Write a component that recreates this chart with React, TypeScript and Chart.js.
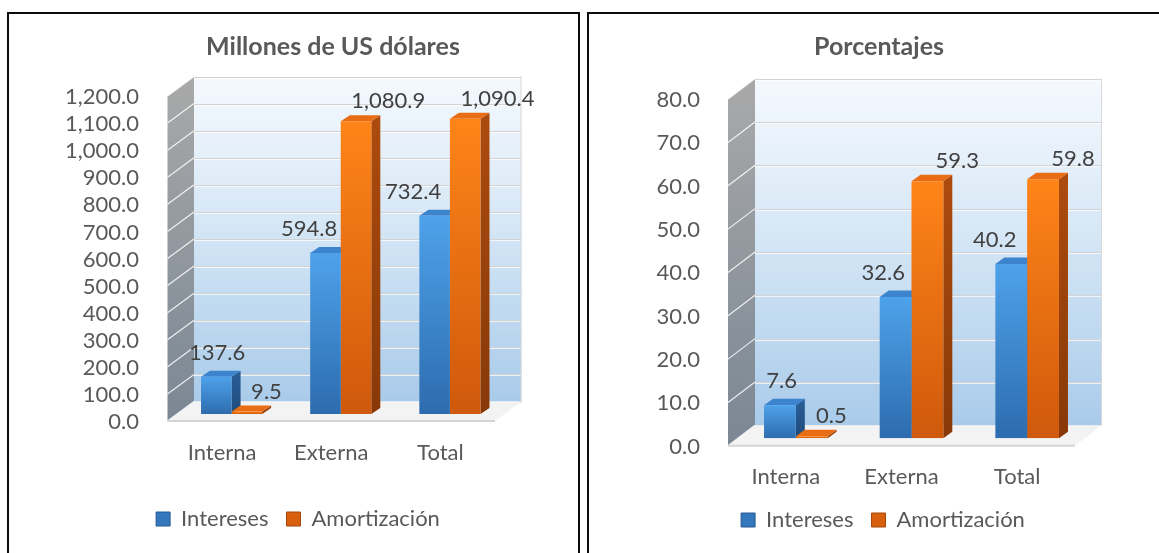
import React, { useEffect, useRef } from "react";
import { Chart, registerables } from "chart.js";

Chart.register(...registerables);

// ---------- data ----------
const categories = ["Interna", "Externa", "Total"];
const seriesLabels = ["Intereses", "Amortización"];
const usdIntereses = [137.6, 594.8, 732.4];
const usdAmortizacion = [9.5, 1080.9, 1090.4];
const pctIntereses = [7.6, 32.6, 40.2];
const pctAmortizacion = [0.5, 59.3, 59.8];
const usdTickValues = [0, 100, 200, 300, 400, 500, 600, 700, 800, 900, 1000, 1100, 1200];
const pctTickValues = [0, 10, 20, 30, 40, 50, 60, 70, 80];
const chartTitles = ["Millones de US dólares", "Porcentajes"];

// ---------- styles ----------
const FONT = "Lato, 'Open Sans', sans-serif";
const FS = 22;
const TEXT = "#595959";
const LABEL = "#404040";
const BLUE = { front: ["#4ea2ea", "#2d6cae"], side: ["#2b5f98", "#1f4b7b"], top: "#3c84cd", legend: "#3577bd", legendStroke: "#255a92" };
const ORANGE = { front: ["#ff8418", "#cf590c"], side: ["#ad4b0e", "#883908"], top: "#e96d14", legend: "#d8600f", legendStroke: "#a4480b" };
const SERIES = [BLUE, ORANGE];

const fmt = (v: number) =>
  v.toLocaleString("en-US", { minimumFractionDigits: 1, maximumFractionDigits: 1 });

interface Layout {
  left: number; top: number; width: number; height: number;
  yWidth: number; rWidth: number; padTop: number; padBottom: number; xHeight: number;
  yPad: number; xPad: number; yLabelOffset: number; xLabelOffset: number;
  titleX: number; titleY: number;
  back: [number, number]; front: [number, number]; depth: [number, number];
  catPct: number;
}

const leftLayout: Layout = {
  left: 10, top: 14, width: 576, height: 539,
  yWidth: 167, rWidth: 81.5, padTop: 75, padBottom: 13, xHeight: 76,
  yPad: 38, xPad: 25.8, yLabelOffset: 8, xLabelOffset: -9.5,
  titleX: 323, titleY: 33,
  back: [17, -12.5], front: [-9.5, 7], depth: [9, 6], catPct: 0.56,
};

const rightLayout: Layout = {
  left: 590, top: 14, width: 586, height: 539,
  yWidth: 148, rWidth: 91, padTop: 77.6, padBottom: 12, xHeight: 52.7,
  yPad: 38, xPad: 25.5, yLabelOffset: 8.4, xLabelOffset: -10,
  titleX: 289, titleY: 33,
  back: [17, -13], front: [-10, 7.5], depth: [9, 6.5], catPct: 0.55,
};

function frontFill(c: any, colors: string[]) {
  const chart = c.chart;
  const ys = chart.scales && chart.scales.y;
  if (!ys || !chart.chartArea || c.raw == null || c.type !== "data") return colors[1];
  const yTop = ys.getPixelForValue(c.raw);
  const yBase = ys.getPixelForValue(0);
  const g = chart.ctx.createLinearGradient(0, yTop, 0, Math.max(yBase, yTop + 1));
  g.addColorStop(0, colors[0]);
  g.addColorStop(1, colors[1]);
  return g;
}

function poly(ctx: CanvasRenderingContext2D, pts: number[][]) {
  ctx.beginPath();
  ctx.moveTo(pts[0][0], pts[0][1]);
  for (let i = 1; i < pts.length; i++) ctx.lineTo(pts[i][0], pts[i][1]);
  ctx.closePath();
  ctx.fill();
}

function line(ctx: CanvasRenderingContext2D, x1: number, y1: number, x2: number, y2: number) {
  ctx.beginPath();
  ctx.moveTo(x1, y1);
  ctx.lineTo(x2, y2);
  ctx.stroke();
}

interface Props { title: string; a: number[]; b: number[]; ticks: number[]; layout: Layout; }

function Bar3D({ title, a, b, ticks, layout: L }: Props) {
  const ref = useRef<HTMLCanvasElement>(null);

  useEffect(() => {
    const canvas = ref.current;
    if (!canvas) return;
    const max = ticks[ticks.length - 1];

    const threeD = {
      id: "threeD",
      beforeDatasetsDraw(chart: any) {
        const ctx: CanvasRenderingContext2D = chart.ctx;
        const ar = chart.chartArea;
        const ys = chart.scales.y;
        const [bdx, bdy] = L.back;
        const [fdx, fdy] = L.front;
        ctx.save();

        // back wall
        const bg = ctx.createLinearGradient(0, ar.top + bdy, 0, ar.bottom + bdy);
        bg.addColorStop(0, "#f5f9fe");
        bg.addColorStop(0.45, "#d6e7f6");
        bg.addColorStop(1, "#a9cbea");
        ctx.fillStyle = bg;
        ctx.fillRect(ar.left + bdx, ar.top + bdy, ar.right - ar.left, ar.bottom - ar.top);
        ctx.lineWidth = 1;
        for (const v of ticks) {
          const y = Math.round(ys.getPixelForValue(v) + bdy) + 0.5;
          ctx.strokeStyle = "#d3d3d3";
          line(ctx, ar.left + bdx, y, ar.right + bdx, y);
          ctx.strokeStyle = "rgba(255,255,255,0.7)";
          line(ctx, ar.left + bdx, y + 1, ar.right + bdx, y + 1);
        }
        ctx.strokeStyle = "#d9d9d9";
        line(ctx, ar.right + bdx - 0.5, ar.top + bdy, ar.right + bdx - 0.5, ar.bottom + bdy);

        // side wall
        const sg = ctx.createLinearGradient(0, ar.top + bdy, 0, ar.bottom + fdy);
        sg.addColorStop(0, "#a9a9a9");
        sg.addColorStop(1, "#7a8794");
        ctx.fillStyle = sg;
        poly(ctx, [
          [ar.left + fdx, ar.top + fdy],
          [ar.left + bdx, ar.top + bdy],
          [ar.left + bdx, ar.bottom + bdy],
          [ar.left + fdx, ar.bottom + fdy],
        ]);
        ctx.strokeStyle = "rgba(255,255,255,0.85)";
        ctx.lineWidth = 1.2;
        for (const v of ticks) {
          const y = ys.getPixelForValue(v);
          line(ctx, ar.left + fdx, y + fdy, ar.left + bdx, y + bdy);
        }

        // floor
        ctx.fillStyle = "#f3f3f3";
        poly(ctx, [
          [ar.left + fdx, ar.bottom + fdy],
          [ar.right + fdx, ar.bottom + fdy],
          [ar.right + bdx, ar.bottom + bdy],
          [ar.left + bdx, ar.bottom + bdy],
        ]);
        ctx.strokeStyle = "#d4d4d4";
        ctx.lineWidth = 2;
        line(ctx, ar.left + fdx, ar.bottom + fdy, ar.right + fdx, ar.bottom + fdy);

        // bar sides and tops
        const [dx, dy] = L.depth;
        chart.data.datasets.forEach((_ds: any, di: number) => {
          const meta = chart.getDatasetMeta(di);
          const st = SERIES[di];
          meta.data.forEach((el: any) => {
            const { x, y, base, width } = el.getProps(["x", "y", "base", "width"], true);
            const l = x - width / 2;
            const r = x + width / 2;
            const sgr = ctx.createLinearGradient(0, y - dy, 0, base);
            sgr.addColorStop(0, st.side[0]);
            sgr.addColorStop(1, st.side[1]);
            ctx.fillStyle = sgr;
            poly(ctx, [[r, y], [r + dx, y - dy], [r + dx, base - dy], [r, base]]);
            ctx.fillStyle = st.top;
            poly(ctx, [[l, y], [r, y], [r + dx, y - dy], [l + dx, y - dy]]);
          });
        });
        ctx.restore();
      },
      afterDatasetsDraw(chart: any) {
        const ctx: CanvasRenderingContext2D = chart.ctx;
        ctx.save();
        ctx.font = `${FS}px ${FONT}`;
        ctx.fillStyle = LABEL;
        ctx.textAlign = "center";
        ctx.textBaseline = "middle";
        chart.data.datasets.forEach((ds: any, di: number) => {
          const meta = chart.getDatasetMeta(di);
          meta.data.forEach((el: any, i: number) => {
            const v = ds.data[i] as number;
            const frac = v / max;
            const { x, y } = el.getProps(["x", "y"], true);
            const ox = di === 0 ? 6 - 45 * frac : 19.5 + 14 * frac;
            const oy = di === 0 ? -24 : -20;
            ctx.fillText(fmt(v), x + ox, y + oy);
          });
        });
        ctx.restore();
      },
      afterDraw(chart: any) {
        const ctx: CanvasRenderingContext2D = chart.ctx;
        ctx.save();
        ctx.font = `bold 25px ${FONT}`;
        ctx.fillStyle = TEXT;
        ctx.textAlign = "center";
        ctx.textBaseline = "middle";
        ctx.fillText(title, L.titleX, L.titleY);
        ctx.restore();
      },
    };

    const chart = new Chart(canvas, {
      type: "bar",
      data: {
        labels: categories,
        datasets: [
          { label: seriesLabels[0], data: a, backgroundColor: (c: any) => frontFill(c, BLUE.front), borderWidth: 0 },
          { label: seriesLabels[1], data: b, backgroundColor: (c: any) => frontFill(c, ORANGE.front), borderWidth: 0 },
        ],
      },
      options: {
        responsive: false,
        animation: false,
        devicePixelRatio: 1,
        datasets: { bar: { barPercentage: 1, categoryPercentage: L.catPct } },
        layout: { padding: { top: L.padTop, bottom: L.padBottom, left: 0, right: 0 } },
        scales: {
          x: {
            type: "category",
            grid: { display: false, drawTicks: false },
            border: { display: false },
            ticks: {
              color: TEXT,
              font: { family: FONT, size: FS },
              padding: L.xPad,
              labelOffset: L.xLabelOffset,
              maxRotation: 0,
              autoSkip: false,
            },
            afterFit: (s: any) => { s.height = L.xHeight; },
          },
          y: {
            type: "linear",
            position: "left",
            min: 0,
            max,
            grid: { display: false, drawTicks: false },
            border: { display: false },
            ticks: {
              color: TEXT,
              font: { family: FONT, size: FS },
              padding: L.yPad,
              labelOffset: L.yLabelOffset,
              autoSkip: false,
              callback: (v: any) => fmt(Number(v)),
            },
            afterBuildTicks: (s: any) => { s.ticks = ticks.map((v) => ({ value: v })); },
            afterFit: (s: any) => { s.width = L.yWidth; },
          },
          yR: {
            type: "linear",
            position: "right",
            display: true,
            grid: { display: false, drawTicks: false },
            border: { display: false },
            ticks: { display: false },
            afterFit: (s: any) => { s.width = L.rWidth; },
          },
        },
        plugins: {
          title: { display: false },
          tooltip: { enabled: false },
          legend: {
            display: true,
            position: "bottom",
            labels: {
              color: TEXT,
              font: { family: FONT, size: FS },
              boxWidth: 14,
              boxHeight: 14,
              padding: 18,
              generateLabels: (ch: any) =>
                ch.data.datasets.map((ds: any, i: number) => ({
                  text: ds.label,
                  fillStyle: SERIES[i].legend,
                  strokeStyle: SERIES[i].legendStroke,
                  lineWidth: 1,
                  hidden: false,
                  datasetIndex: i,
                  fontColor: TEXT,
                })),
            },
          },
        },
      } as any,
      plugins: [threeD],
    });
    return () => chart.destroy();
  }, []);

  return (
    <canvas
      ref={ref}
      width={L.width}
      height={L.height}
      style={{ position: "absolute", left: L.left, top: L.top, width: L.width, height: L.height }}
    />
  );
}

export default function App() {
  return (
    <div style={{ position: "fixed", left: 0, top: 0, width: 1159, height: 553, overflow: "hidden", background: "#ffffff" }}>
      <div style={{ position: "absolute", left: 7, top: 12, width: 573, height: 620, boxSizing: "border-box", border: "2px solid #0d0d0d", background: "#ffffff" }} />
      <div style={{ position: "absolute", left: 587, top: 12, width: 640, height: 620, boxSizing: "border-box", border: "2px solid #0d0d0d", background: "#ffffff" }} />
      <Bar3D title={chartTitles[0]} a={usdIntereses} b={usdAmortizacion} ticks={usdTickValues} layout={leftLayout} />
      <Bar3D title={chartTitles[1]} a={pctIntereses} b={pctAmortizacion} ticks={pctTickValues} layout={rightLayout} />
    </div>
  );
}
